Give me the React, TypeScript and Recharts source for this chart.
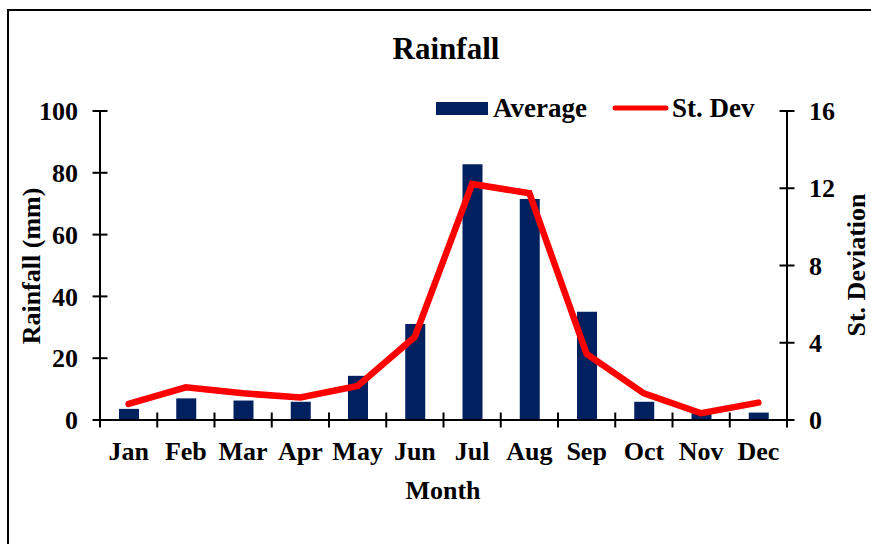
import { ComposedChart, Bar, Line, XAxis, YAxis } from 'recharts';

const months = ['Jan', 'Feb', 'Mar', 'Apr', 'May', 'Jun', 'Jul', 'Aug', 'Sep', 'Oct', 'Nov', 'Dec'];
const avgRainfall = [3.6, 7.0, 6.3, 5.9, 14.3, 31.1, 82.8, 71.5, 35.0, 5.9, 2.2, 2.4];
const stDev = [0.83, 1.69, 1.38, 1.17, 1.76, 4.31, 12.22, 11.74, 3.42, 1.38, 0.35, 0.9];
const rainTicks = [0, 20, 40, 60, 80, 100];
const sdTicks = [0, 4, 8, 12, 16];

const data = months.map((month, i) => ({ month, avg: avgRainfall[i], sd: stDev[i] }));

const W = 871;
const H = 544;
const PLOT_LEFT = 100;
const PLOT_RIGHT = 787;
const PLOT_TOP = 111;
const PLOT_BOTTOM = 420;
const BAND = (PLOT_RIGHT - PLOT_LEFT) / months.length;
const FONT = "'Liberation Serif', 'Times New Roman', serif";
const NAVY = '#002060';
const RED = '#ff0000';
const TICK_FONT = 26;

const textStyle = { fontFamily: FONT, fontWeight: 700, fill: '#000' };

// y ticks cross the axis line, labels sit outside
function LeftTick({ y, payload }: any) {
  return (
    <g>
      <line x1={PLOT_LEFT - 7.5} x2={PLOT_LEFT + 7.5} y1={y} y2={y} stroke="#000" strokeWidth={2} />
      <text x={PLOT_LEFT - 22} y={y} dy="0.35em" textAnchor="end" fontSize={TICK_FONT} style={textStyle}>
        {payload.value}
      </text>
    </g>
  );
}

function RightTick({ y, payload }: any) {
  return (
    <g>
      <line x1={PLOT_RIGHT - 7.5} x2={PLOT_RIGHT + 7.5} y1={y} y2={y} stroke="#000" strokeWidth={2} />
      <text x={PLOT_RIGHT + 22} y={y} dy="0.35em" textAnchor="start" fontSize={TICK_FONT} style={textStyle}>
        {payload.value}
      </text>
    </g>
  );
}

// month ticks sit on the category boundaries, not the centres
function MonthTick({ x, payload, index }: any) {
  const left = x - BAND / 2;
  const right = x + BAND / 2;
  return (
    <g>
      <line x1={left} x2={left} y1={PLOT_BOTTOM - 7.5} y2={PLOT_BOTTOM + 7.5} stroke="#000" strokeWidth={2} />
      {index === months.length - 1 && (
        <line x1={right} x2={right} y1={PLOT_BOTTOM - 7.5} y2={PLOT_BOTTOM + 7.5} stroke="#000" strokeWidth={2} />
      )}
      <text x={x} y={460} textAnchor="middle" fontSize={TICK_FONT} style={textStyle}>
        {payload.value}
      </text>
    </g>
  );
}

export default function App() {
  return (
    <div
      style={{
        position: 'absolute',
        left: 0,
        top: 0,
        width: W,
        height: H,
        overflow: 'hidden',
        background: '#fff',
      }}
    >
      <ComposedChart
        width={W}
        height={H}
        data={data}
        margin={{ top: PLOT_TOP, right: 0, bottom: 0, left: 0 }}
      >
        <XAxis
          dataKey="month"
          height={H - PLOT_BOTTOM}
          interval={0}
          tickLine={false}
          axisLine={{ stroke: '#000', strokeWidth: 2 }}
          tick={<MonthTick />}
        />
        <YAxis
          yAxisId="left"
          width={PLOT_LEFT}
          domain={[0, 100]}
          ticks={rainTicks}
          tickLine={false}
          axisLine={{ stroke: '#000', strokeWidth: 2 }}
          tick={<LeftTick />}
        />
        <YAxis
          yAxisId="right"
          orientation="right"
          width={W - PLOT_RIGHT}
          domain={[0, 16]}
          ticks={sdTicks}
          tickLine={false}
          axisLine={{ stroke: '#000', strokeWidth: 2 }}
          tick={<RightTick />}
        />
        <Bar yAxisId="left" dataKey="avg" name="Average" fill={NAVY} barSize={20} isAnimationActive={false} />
        <Line
          yAxisId="right"
          dataKey="sd"
          name="St. Dev"
          type="linear"
          stroke={RED}
          strokeWidth={6.5}
          strokeLinecap="round"
          dot={false}
          activeDot={false}
          isAnimationActive={false}
        />
      </ComposedChart>

      <svg
        width={W}
        height={H}
        style={{ position: 'absolute', left: 0, top: 0, pointerEvents: 'none' }}
      >
        <rect x={8} y={10} width={1000} height={1000} fill="none" stroke="#000" strokeWidth={2} />
        <text x={446} y={59} textAnchor="middle" fontSize={31} style={textStyle}>
          Rainfall
        </text>
        <text x={443} y={499} textAnchor="middle" fontSize={26} style={textStyle}>
          Month
        </text>
        <text
          x={31}
          y={266}
          textAnchor="middle"
          dominantBaseline="central"
          fontSize={26}
          transform="rotate(-90 31 266)"
          style={textStyle}
        >
          Rainfall (mm)
        </text>
        <text
          x={856}
          y={265}
          textAnchor="middle"
          dominantBaseline="central"
          fontSize={26}
          transform="rotate(-90 856 265)"
          style={textStyle}
        >
          St. Deviation
        </text>

        {/* legend */}
        <rect x={436} y={102} width={52} height={13} fill={NAVY} />
        <text x={493} y={117} fontSize={27} style={textStyle}>
          Average
        </text>
        <line x1={615} x2={666} y1={108} y2={108} stroke={RED} strokeWidth={5} strokeLinecap="round" />
        <text x={672} y={117} fontSize={27} style={textStyle}>
          St. Dev
        </text>
      </svg>
    </div>
  );
}
